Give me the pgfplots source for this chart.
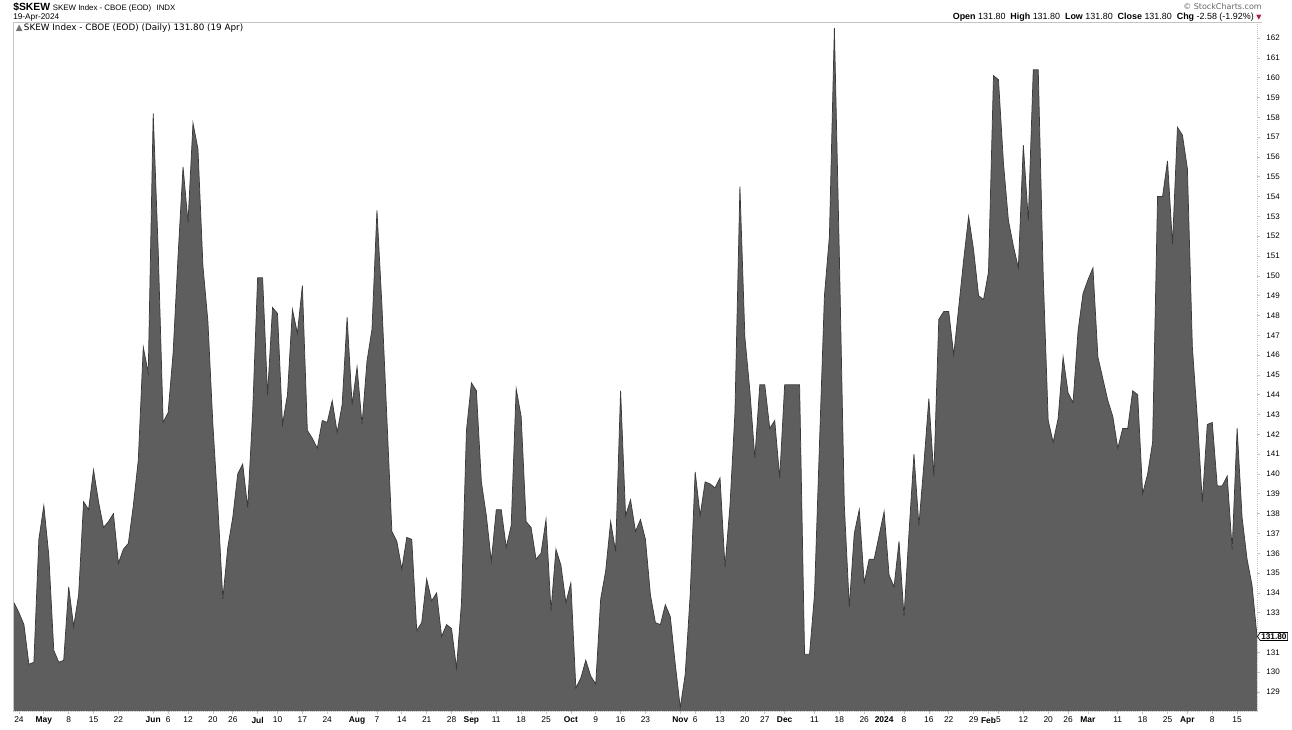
\documentclass[border=0pt]{standalone}
\usepackage{fontspec}
\setmainfont{Liberation Sans}
\newfontfamily\dv{DejaVu Sans}
\usepackage{pgfplots}
\pgfplotsset{compat=1.18}
\usepackage{pgfplotstable}
\usetikzlibrary{shapes.symbols}
\definecolor{area}{HTML}{5E5E5E}
\definecolor{edge}{HTML}{3A3A3A}
\definecolor{frame}{HTML}{C4C4C4}
\definecolor{chgred}{HTML}{C8102E}

\pgfplotstableread{
i v
0 133.5
1 133.0
2 132.4
3 130.4
4 130.5
5 136.7
6 138.4
7 135.9
8 131.1
9 130.5
10 130.6
11 134.3
12 132.3
13 133.9
14 138.6
15 138.2
16 140.2
17 138.6
18 137.3
19 137.6
20 138.0
21 135.5
22 136.2
23 136.5
24 138.4
25 140.7
26 146.4
27 145.1
28 158.2
29 151.3
30 142.6
31 143.1
32 146.1
33 151.0
34 155.5
35 152.7
36 157.7
37 156.4
38 150.5
39 147.7
40 142.5
41 138.4
42 133.7
43 136.3
44 137.8
45 140.0
46 140.5
47 138.3
48 143.1
49 149.9
50 149.9
51 144.0
52 148.4
53 148.1
54 142.5
55 144.0
56 148.3
57 147.1
58 149.5
59 142.2
60 141.8
61 141.3
62 142.7
63 142.6
64 143.7
65 142.1
66 143.5
67 147.9
68 143.5
69 145.4
70 142.5
71 145.7
72 147.3
73 153.3
74 148.5
75 142.8
76 137.1
77 136.6
78 135.2
79 136.8
80 136.7
81 132.1
82 132.5
83 134.7
84 133.6
85 134.0
86 131.8
87 132.4
88 132.2
89 130.2
90 133.5
91 142.2
92 144.6
93 144.2
94 139.6
95 137.9
96 135.6
97 138.2
98 138.2
99 136.3
100 137.4
101 144.3
102 142.9
103 137.6
104 137.3
105 135.7
106 136.0
107 137.7
108 133.1
109 136.2
110 135.4
111 133.5
112 134.5
113 129.2
114 129.7
115 130.6
116 129.8
117 129.4
118 133.7
119 135.1
120 137.6
121 136.1
122 144.2
123 137.9
124 138.7
125 137.1
126 137.7
127 136.7
128 133.9
129 132.5
130 132.4
131 133.4
132 132.8
133 130.4
134 128.2
135 129.9
136 133.9
137 140.1
138 137.9
139 139.6
140 139.5
141 139.3
142 139.8
143 135.3
144 138.4
145 143.1
146 154.5
147 146.9
148 144.2
149 140.8
150 144.5
151 144.5
152 142.3
153 142.7
154 139.8
155 144.5
156 144.5
157 144.5
158 144.5
159 130.9
160 130.9
161 133.9
162 141.5
163 149.0
164 152.0
165 162.5
166 151.0
167 138.4
168 133.3
169 137.0
170 138.2
171 134.5
172 135.7
173 135.7
174 136.9
175 138.1
176 134.9
177 134.3
178 136.6
179 132.8
180 137.0
181 141.0
182 137.4
183 140.5
184 143.8
185 139.9
186 147.8
187 148.2
188 148.2
189 146.0
190 148.4
191 150.8
192 153.0
193 151.3
194 149.0
195 148.8
196 150.2
197 160.1
198 159.9
199 155.7
200 152.8
201 151.5
202 150.4
203 156.6
204 152.8
205 160.4
206 160.4
207 150.0
208 142.7
209 141.6
210 142.8
211 145.9
212 144.1
213 143.6
214 147.2
215 149.1
216 149.8
217 150.4
218 145.9
219 144.8
220 143.7
221 142.9
222 141.3
223 142.3
224 142.3
225 144.2
226 144.0
227 139.0
228 140.0
229 141.6
230 154.0
231 154.0
232 155.8
233 151.6
234 157.5
235 157.1
236 155.4
237 146.4
238 142.8
239 138.6
240 142.5
241 142.6
242 139.4
243 139.4
244 139.9
245 136.2
246 142.3
247 137.8
248 135.7
249 134.38
250 131.80
}\skewdata

\begin{document}
\begin{tikzpicture}[x=0.75pt,y=0.75pt]
\path (0,0) rectangle (1292,727);
% header
\node[anchor=base west, inner sep=0] at (13,716)
  {{\fontsize{7.8}{8}\selectfont\bfseries \$SKEW}\hspace{2pt}{\fontsize{5.9}{6}\selectfont SKEW Index - CBOE (EOD)\hspace{4pt}INDX}};
\node[anchor=base west, inner sep=0] at (13,707) {\fontsize{6.2}{7}\selectfont 19-Apr-2024};
\node[anchor=base east, inner sep=0, text=black!60] at (1262,717) {\fontsize{6}{7}\selectfont \dv © StockCharts.com};
\node[anchor=base east, inner sep=0] at (1254,707) {\fontsize{6.7}{7}\selectfont
  \textbf{Open} 131.80\ \ \textbf{High} 131.80\ \ \textbf{Low} 131.80\ \ \textbf{Close} 131.80\ \ \textbf{Chg} -2.58 (-1.92\%)};
\node[anchor=base west, inner sep=0, text=chgred] at (1256,707) {\fontsize{5}{6}\selectfont\dv ▼};
\begin{axis}[
  at={(9.75pt,12pt)}, anchor=south west,
  scale only axis, width=933pt, height=516.75pt,
  xmin=-0.2, xmax=250, ymin=128.04, ymax=162.81,
  axis line style={draw=none},
  clip mode=individual,
  /pgf/number format/assume math mode=true,
  ytick={129,...,162},
  yticklabels={129,130,131,,133,134,135,136,137,138,139,140,141,142,143,144,145,146,147,148,149,150,151,152,153,154,155,156,157,158,159,160,161,162},
  yticklabel pos=right, ytick pos=right,
  xtick pos=bottom,
  tick align=outside,
  major tick length=2pt,
  tick style={frame, line width=0.5pt},
  yticklabel style={font=\fontsize{6}{7}\selectfont, xshift=1.5pt},
  xticklabel style={font=\fontsize{6.3}{7}\selectfont, yshift=1pt},
  xtick={1,6,11,16,21,28,31,35,40,44,49,53,58,63,69,73,78,83,88,92,97,102,107,112,117,122,127,134,137,142,147,151,155,161,166,171,175,179,184,188,193,196,198,203,208,212,216,222,227,232,236,241,246},
  xticklabels={24,\textbf{May},8,15,22,\textbf{Jun},6,12,20,26,\textbf{Jul},10,17,24,\textbf{Aug},7,14,21,28,\textbf{Sep},11,18,25,\textbf{Oct},9,16,23,\textbf{Nov},6,13,20,27,\textbf{Dec},11,18,26,\textbf{2024},8,16,22,29,\textbf{Feb},5,12,20,26,\textbf{Mar},11,18,25,\textbf{Apr},8,15},
]
\addplot[fill=area, draw=none] table[x=i,y=v]{\skewdata} \closedcycle;
\addplot[edge, line width=0.55pt] table[x=i,y=v]{\skewdata};
\draw[frame, line width=0.6pt] (rel axis cs:0,0) -- (rel axis cs:0,1) -- (rel axis cs:1.004,1);
\draw[frame, line width=0.6pt, densely dotted] (rel axis cs:0,0) -- (rel axis cs:1,0) -- (rel axis cs:1,1);
\node[anchor=west, inner sep=0] at (rel axis cs:0.002,0.991) {\fontsize{6.6}{7}\selectfont\dv\textcolor{black!55}{▲}\,SKEW Index - CBOE (EOD) (Daily) 131.80 (19 Apr)};
\node[signal, signal to=west, signal pointer angle=110, draw=black, fill=white, line width=0.5pt,
      inner sep=0.8pt, anchor=west, font=\fontsize{6.2}{7}\selectfont\bfseries]
      at (axis cs:250,131.8) {131.80};
\end{axis}
\end{tikzpicture}
\end{document}
